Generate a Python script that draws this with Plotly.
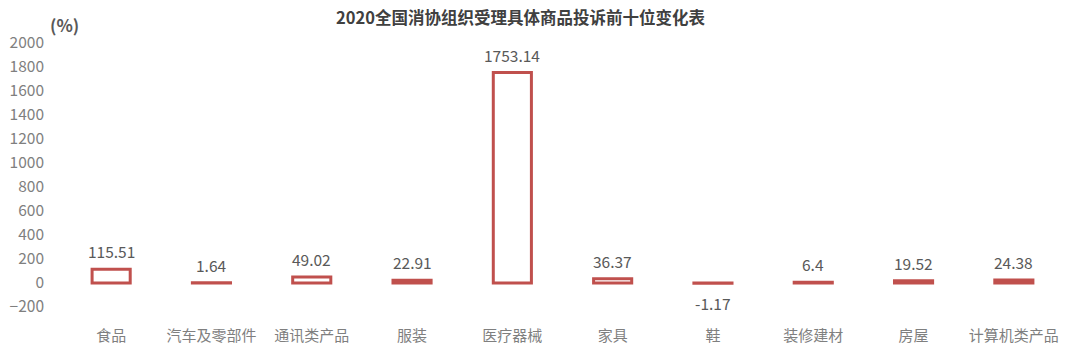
import plotly.graph_objects as go

categories = ["食品", "汽车及零部件", "通讯类产品", "服装", "医疗器械", "家具", "鞋", "装修建材", "房屋", "计算机类产品"]
values = [115.51, 1.64, 49.02, 22.91, 1753.14, 36.37, -1.17, 6.4, 19.52, 24.38]
value_labels = ["115.51", "1.64", "49.02", "22.91", "1753.14", "36.37", "-1.17", "6.4", "19.52", "24.38"]
y_ticks = list(range(-200, 2001, 200))

FONT = "Noto Sans CJK SC"
RED = "#C0504D"

fig = go.Figure()
fig.add_trace(go.Bar(
    x=categories, y=values,
    width=0.38,
    marker=dict(color="#FFFFFF", line=dict(color=RED, width=3)),
    hoverinfo="x+y",
))

annotations = []
for c, v, t in zip(categories, values, value_labels):
    annotations.append(dict(
        x=c, y=v, xref="x", yref="y", text=t, showarrow=False,
        yshift=18 if v >= 0 else -20,
        font=dict(family=FONT, size=15.5, color="#595959"),
    ))
annotations.append(dict(
    x=0.5, y=1, xref="paper", yref="paper", text="<b>2020全国消协组织受理具体商品投诉前十位变化表</b>",
    showarrow=False, xanchor="center", yanchor="middle", yshift=26, xshift=-42,
    font=dict(family=FONT, size=16.5, color="#404040"),
))
annotations.append(dict(
    x=0, y=1, xref="paper", yref="paper", text="<b>(%)</b>",
    showarrow=False, xanchor="left", yanchor="middle", xshift=-13, yshift=19,
    font=dict(family=FONT, size=17, color="#595959"),
))

fig.update_layout(
    width=1080, height=354,
    margin=dict(l=61, r=16, t=43, b=47, autoexpand=False),
    paper_bgcolor="white", plot_bgcolor="white",
    showlegend=False,
    font=dict(family=FONT),
    annotations=annotations,
    bargap=0.6,
)
fig.update_xaxes(
    showgrid=False, showline=False, zeroline=False, ticks="",
    tickfont=dict(family=FONT, size=15, color="#7F7F7F"),
    ticklabelstandoff=18,
)
fig.update_yaxes(
    range=[-200, 2000], tickvals=y_ticks,
    showgrid=False, showline=False, zeroline=False, ticks="",
    tickfont=dict(family=FONT, size=15.5, color="#7F7F7F"),
    ticklabelstandoff=16,
)

fig.write_html("out.html")
